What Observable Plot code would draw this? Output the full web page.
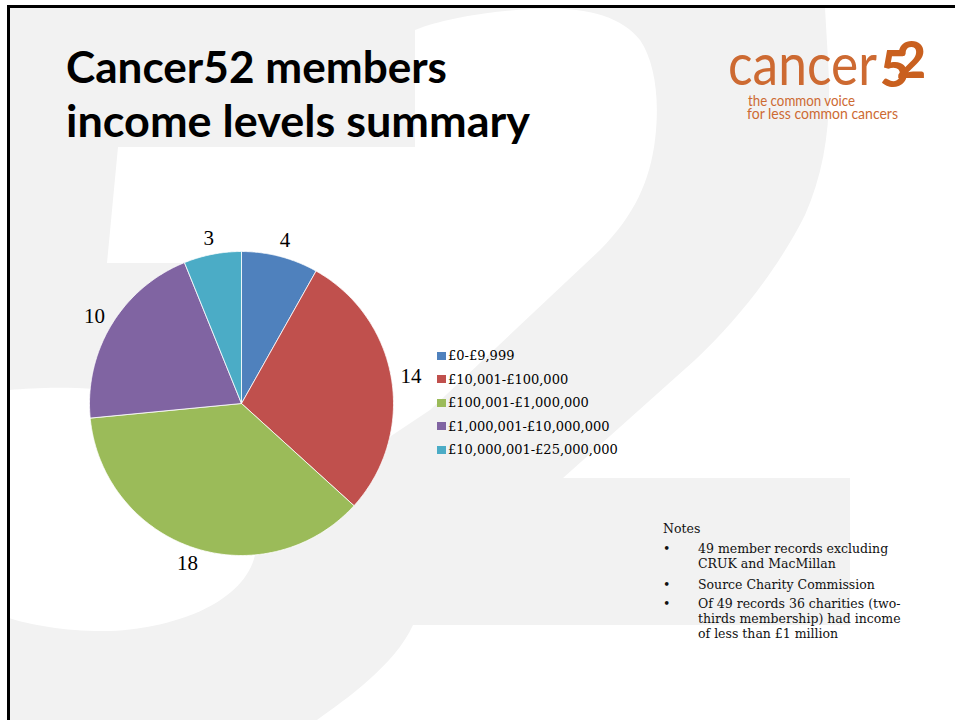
<!DOCTYPE html>
<html><head><meta charset="utf-8">
<script src="https://cdn.jsdelivr.net/npm/d3@7"></script>
<script src="https://cdn.jsdelivr.net/npm/@observablehq/plot@0.6"></script>
<style>
html,body{margin:0;padding:0;background:#fff;}
#slide{position:relative;width:955px;height:720px;overflow:hidden;background:#fff;}
#bg{position:absolute;left:0;top:0;}
#pie{position:absolute;left:51px;top:213px;}
#legend{position:absolute;left:437px;top:344px;font-family:"DejaVu Serif";font-size:13px;color:#000;}
.row{height:23.5px;display:flex;align-items:center;white-space:nowrap;}
.sw{width:9px;height:8px;margin-right:2px;flex:none;}
.pre{white-space:pre;}
</style></head><body><div id="slide">
<svg id="bg" width="955" height="720">
  <rect x="9" y="8" width="946" height="712" fill="#f2f2f2"/>
  <path fill="#fff" d="M415,147 L415,30 C440,20 480,12 530,9 C580,6 620,14 640,40 C655,62 660,100 655,140 C650,180 635,215 600,250 L430,410 L385,440 L300,300 L290,263 L107,263 L118,147 Z"/>
  <path fill="#fff" d="M825,8 L955,8 L955,720 L317,720 C345,700 395,665 413,625 L850,625 L850,478 L563,478 L695,360 C740,318 780,265 805,215 C825,170 832,120 828,60 Z"/>
  <path fill="#fff" d="M9,390 C60,385 150,385 210,420 C250,445 262,510 255,555 C245,600 180,628 110,631 C70,632 30,625 9,618 Z"/>
  <rect x="7" y="5" width="948" height="3" fill="#000"/>
  <rect x="7" y="5" width="3" height="715" fill="#000"/>
  <g font-family="Lato" font-weight="700" font-size="43" fill="#000">
    <text x="66" y="83" textLength="381" lengthAdjust="spacingAndGlyphs">Cancer52 members</text>
    <text x="66" y="137" textLength="464" lengthAdjust="spacingAndGlyphs">income levels summary</text>
  </g>
  <g font-family="Lato" fill="#cd6a32">
    <text x="728" y="85" font-size="58" textLength="149" lengthAdjust="spacingAndGlyphs">cancer</text>
    <text x="880" y="87" font-size="51" font-weight="900" fill="#c9601f">5<tspan dx="-13" dy="-9">2</tspan></text>
    <text x="748" y="106" font-size="14.5" textLength="107" lengthAdjust="spacingAndGlyphs">the common voice</text>
    <text x="747" y="119" font-size="14.5" textLength="151" lengthAdjust="spacingAndGlyphs">for less common cancers</text>
  </g>
  <g font-family="DejaVu Serif" font-size="12.5" fill="#111" class="pre">
    <text x="663" y="533">Notes</text>
    <text x="663" y="553">•</text>
    <text x="663" y="589">•</text>
    <text x="663" y="608">•</text>
    <text x="698" y="553">49 member records  excluding</text>
    <text x="698" y="568">CRUK and MacMillan</text>
    <text x="698" y="589">Source Charity Commission</text>
    <text x="698" y="608">Of 49 records  36 charities (two-</text>
    <text x="698" y="623">thirds membership) had income</text>
    <text x="698" y="638">of less than £1 million</text>
  </g>
</svg>
<div id="pie"></div>
<div id="legend"></div>
</div>
<script>
const categories = ["£0-£9,999", "£10,001-£100,000", "£100,001-£1,000,000", "£1,000,001-£10,000,000", "£10,000,001-£25,000,000"];
const counts = [4, 14, 18, 10, 3];
const colors = ["#4F81BD", "#C0504D", "#9BBB59", "#8064A2", "#4BACC6"];

const rows = categories.map((c, i) => ({category: c, count: counts[i]}));
const arcs = d3.pie().sort(null).value(d => d.count)(rows);
const poly = [];
arcs.forEach(a => {
  const n = Math.max(2, Math.ceil((a.endAngle - a.startAngle) / (Math.PI / 360)));
  poly.push({category: a.data.category, x: 0, y: 0});
  for (let k = 0; k <= n; k++) {
    const t = a.startAngle + (a.endAngle - a.startAngle) * k / n;
    poly.push({category: a.data.category, x: Math.sin(t), y: Math.cos(t)});
  }
  poly.push({category: a.data.category, x: 0, y: 0});
});
const labels = arcs.map(a => {
  const m = (a.startAngle + a.endAngle) / 2;
  return {text: String(a.data.count), x: 1.13 * Math.sin(m), y: 1.11 * Math.cos(m)};
});

const chart = Plot.plot({
  width: 380, height: 380, margin: 0,
  x: {domain: [-1.25, 1.25], axis: null},
  y: {domain: [-1.25, 1.25], axis: null},
  color: {domain: categories, range: colors},
  style: {background: "transparent", overflow: "visible"},
  marks: [
    Plot.line(poly, {x: "x", y: "y", z: "category", fill: "category", stroke: "white", strokeWidth: 0.8, curve: "linear"}),
    Plot.text(labels, {x: "x", y: "y", text: "text", fontSize: 21, fontFamily: "Liberation Serif", fill: "#000"})
  ]
});
document.getElementById("pie").appendChild(chart);

const legend = document.getElementById("legend");
categories.forEach((c, i) => {
  const r = document.createElement("div");
  r.className = "row";
  const s = document.createElement("span");
  s.className = "sw";
  s.style.background = colors[i];
  const t = document.createElement("span");
  t.textContent = c;
  r.appendChild(s); r.appendChild(t);
  legend.appendChild(r);
});
</script></body></html>
